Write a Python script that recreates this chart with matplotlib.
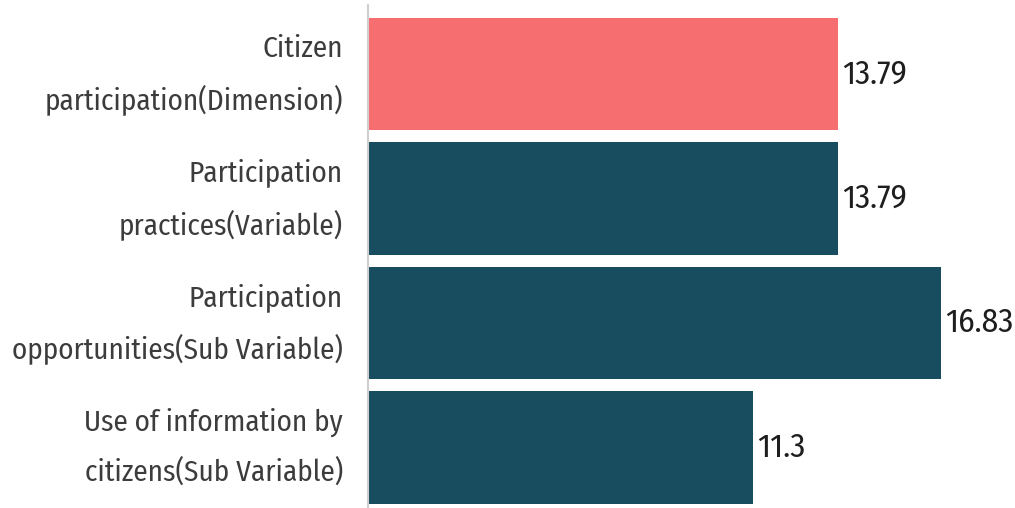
import matplotlib.pyplot as plt
import matplotlib.transforms as mtransforms
from matplotlib import font_manager

categories = [
    "Citizen\nparticipation(Dimension)",
    "Participation\npractices(Variable)",
    "Participation\nopportunities(Sub Variable)",
    "Use of information by\ncitizens(Sub Variable)",
]
values = [13.79, 13.79, 16.83, 11.3]
value_labels = ["13.79", "13.79", "16.83", "11.3"]
colors = ["#F66E70", "#174D5F", "#174D5F", "#174D5F"]

# narrow font first, plain ones as fallback
names = {f.name for f in font_manager.fontManager.ttflist}
family = [n for n in ["Fira Sans Condensed", "Roboto Condensed", "Roboto", "DejaVu Sans"] if n in names]
plt.rcParams['font.family'] = family

fig = plt.figure(figsize=(10.15, 5.08), dpi=100)
ax = fig.add_axes([368 / 1015, 0, 1 - 368 / 1015, 1 - 5 / 508])

pos = list(range(len(categories)))
bars = ax.barh(pos, values, height=0.9, color=colors)

for bar, lab in zip(bars, value_labels):
    ax.text(bar.get_width() + 0.12, bar.get_y() + bar.get_height() / 2, lab,
            va='center', ha='left', fontsize=24, color='#1E1E1E')

ax.set_yticks(pos)
ax.set_yticklabels(categories, fontsize=21, color='#3C3C3C', linespacing=1.85)
ax.tick_params(axis='y', length=0, pad=18)
# lift the two-line labels a little so they sit centred on the bars
shift = mtransforms.ScaledTranslation(0, 13 / 100, fig.dpi_scale_trans)
for t in ax.get_yticklabels():
    t.set_transform(t.get_transform() + shift)
ax.set_xticks([])
ax.set_xlim(0, 19)
ax.set_ylim(3.486, -0.554)

for s in ['top', 'right', 'bottom']:
    ax.spines[s].set_visible(False)
ax.spines['left'].set_color('#D0D0D0')
ax.spines['left'].set_linewidth(1.5)

fig.savefig('out.png', dpi=100)
